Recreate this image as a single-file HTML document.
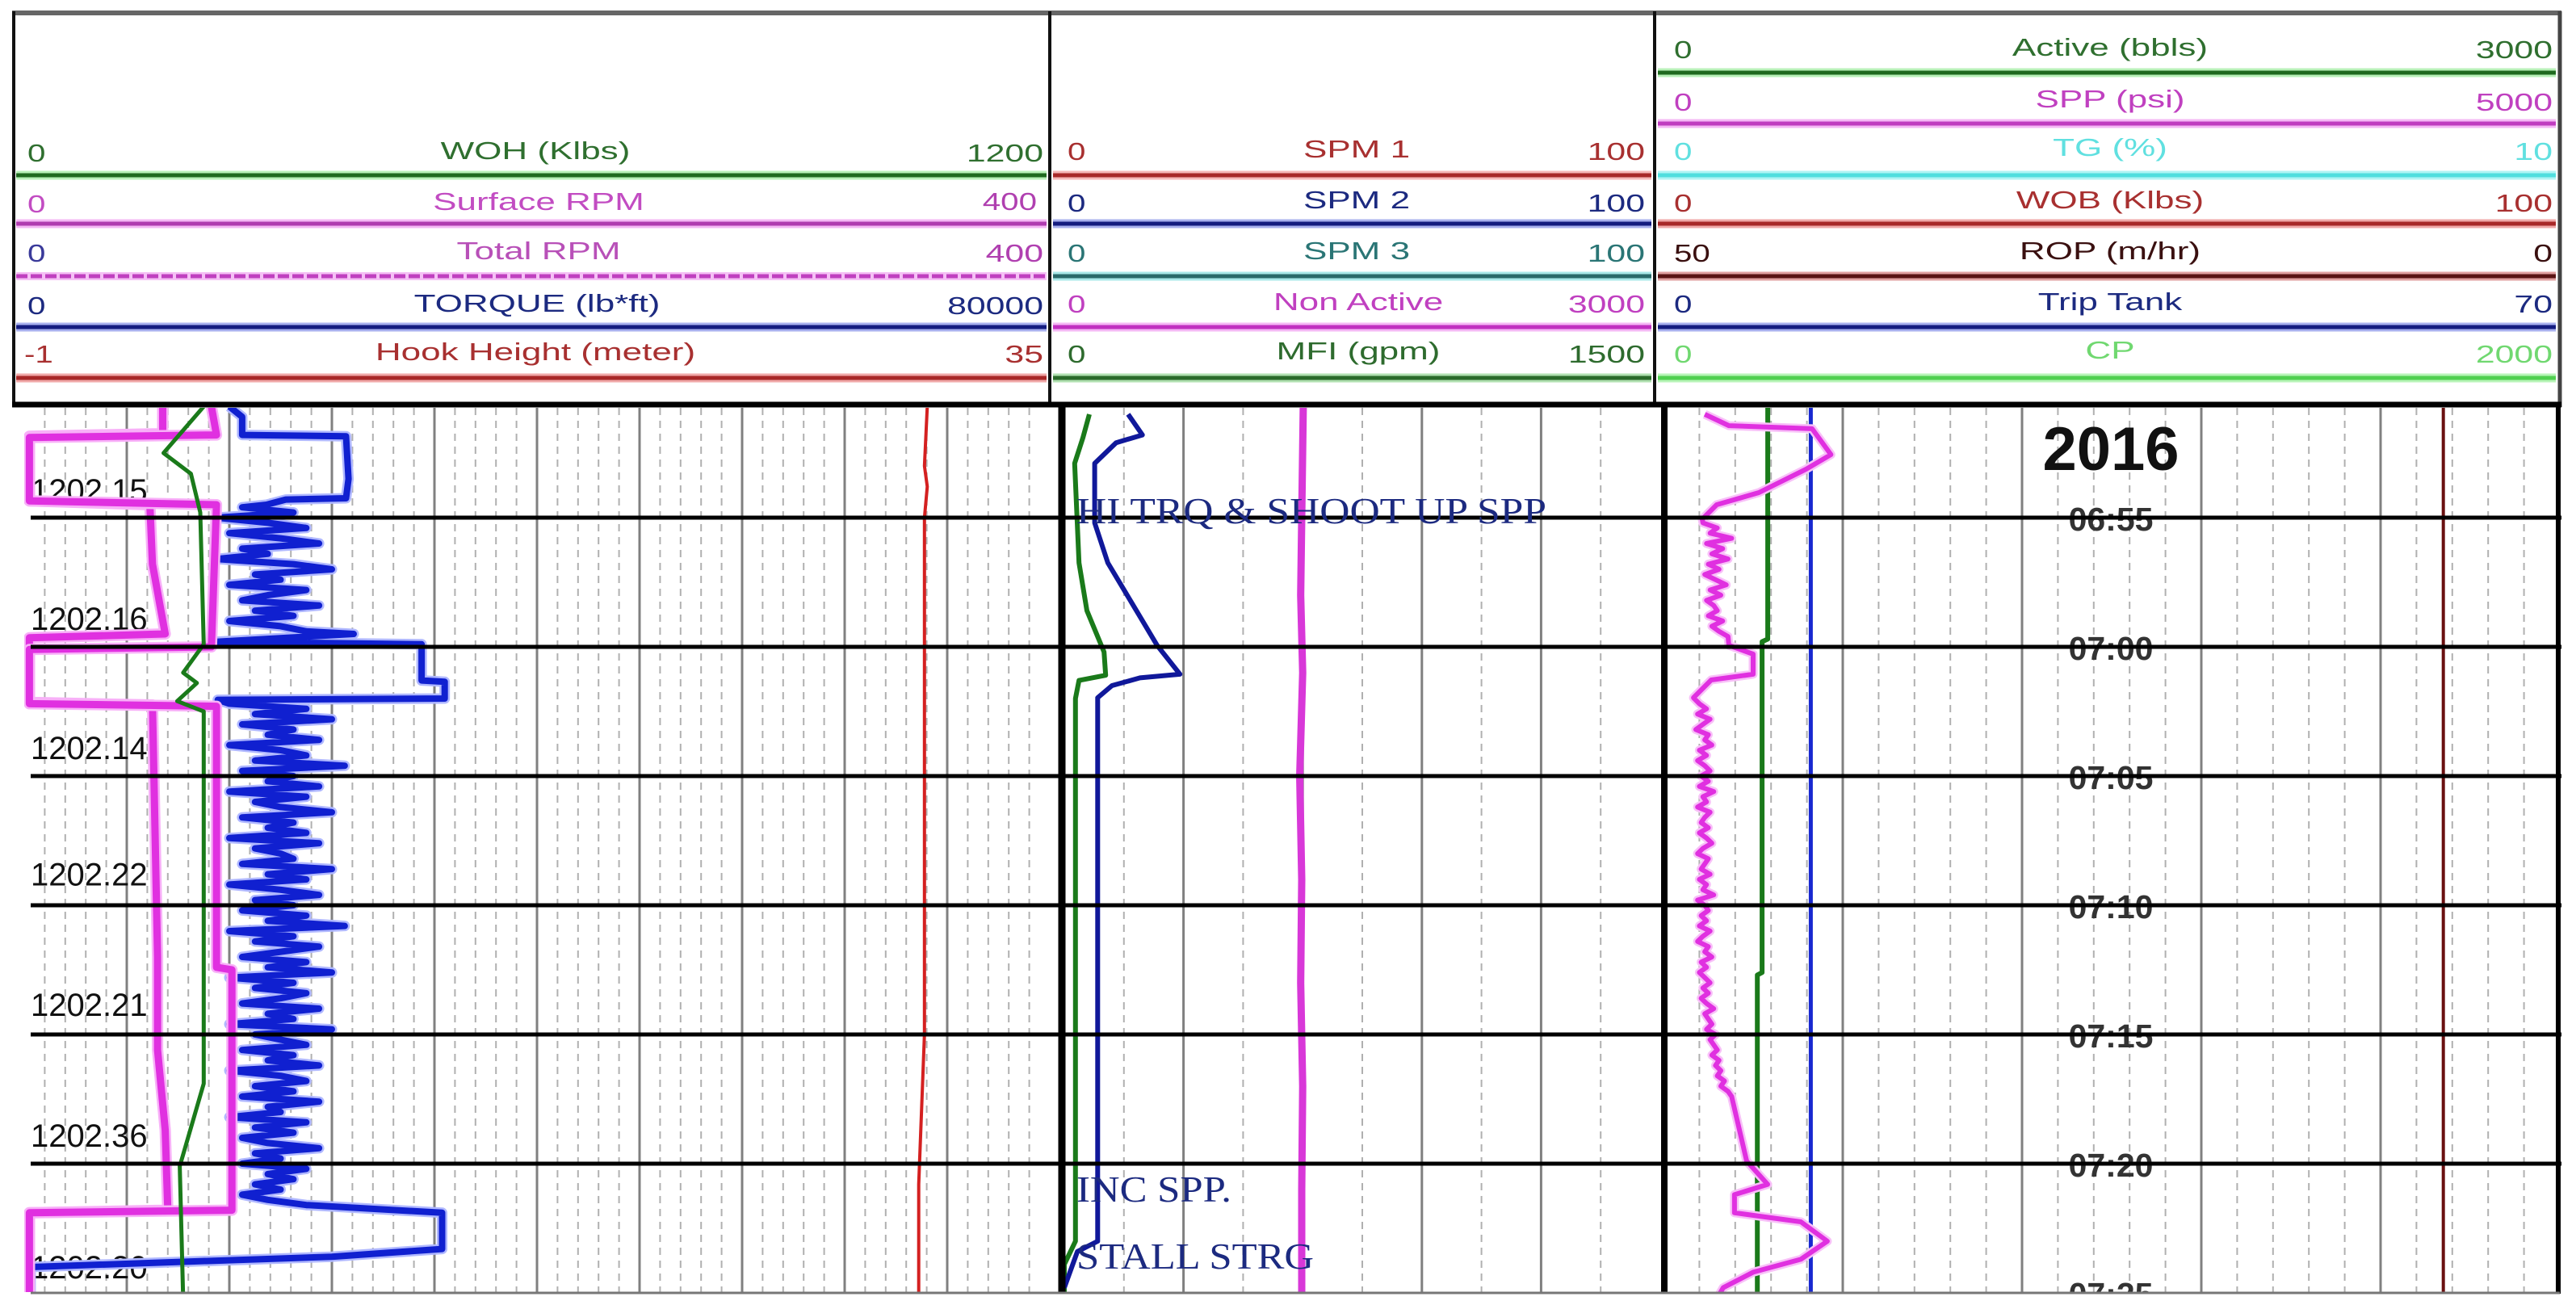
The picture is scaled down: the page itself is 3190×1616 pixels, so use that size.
<!DOCTYPE html>
<html><head><meta charset="utf-8"><style>
html,body{margin:0;padding:0;background:#fff;}
svg{display:block;font-family:"Liberation Sans",sans-serif;}
</style></head><body>
<svg id="chart" width="3190" height="1616" viewBox="0 0 3190 1616" xmlns="http://www.w3.org/2000/svg">
<rect x="0" y="0" width="3190" height="1616" fill="#fff"/>
<defs>
<clipPath id="c1"><rect x="30" y="505" width="1283" height="1095"/></clipPath>
<clipPath id="c2"><rect x="1318" y="505" width="740" height="1095"/></clipPath>
<clipPath id="c3"><rect x="2062" y="505" width="1105" height="1095"/></clipPath>
<clipPath id="cl"><rect x="0" y="505" width="3190" height="1096"/></clipPath>
</defs>
<g id="grid"></g>
<g id="labels" clip-path="url(#cl)"></g>
<g id="curves"></g>
<g id="frame"></g>

<g font-size="31">
  <g>
    <line x1="20" y1="217" x2="1296" y2="217" stroke="#b8f0b8" stroke-width="11"/><line x1="20" y1="217" x2="1296" y2="217" stroke="#1f6a1f" stroke-width="5"/>
    <text transform="translate(663,197) scale(1.42,1)" text-anchor="middle" fill="#2f6f2f">WOH  (Klbs)</text>
    <text transform="translate(34,200) scale(1.3,1)" fill="#2f6f2f">0</text>
    <text transform="translate(1292,200) scale(1.38,1)" text-anchor="end" fill="#2f6f2f">1200</text>

    <line x1="20" y1="277" x2="1296" y2="277" stroke="#f5b8f5" stroke-width="11"/><line x1="20" y1="277" x2="1296" y2="277" stroke="#b03cb0" stroke-width="5"/>
    <text transform="translate(667,260) scale(1.42,1)" text-anchor="middle" fill="#c24cc2">Surface RPM</text>
    <text transform="translate(34,263) scale(1.3,1)" fill="#c24cc2">0</text>
    <text transform="translate(1284,260) scale(1.3,1)" text-anchor="end" fill="#b040b0">400</text>

    <line x1="20" y1="342" x2="1296" y2="342" stroke="#f5c0f5" stroke-width="10"/><line x1="20" y1="342" x2="1296" y2="342" stroke="#c040c0" stroke-width="5" stroke-dasharray="14 4"/>
    <text transform="translate(667,321) scale(1.42,1)" text-anchor="middle" fill="#b850b8">Total RPM</text>
    <text transform="translate(34,324) scale(1.3,1)" fill="#3a3a9a">0</text>
    <text transform="translate(1292,324) scale(1.38,1)" text-anchor="end" fill="#b040b0">400</text>

    <line x1="20" y1="405" x2="1296" y2="405" stroke="#a8b0ee" stroke-width="11"/><line x1="20" y1="405" x2="1296" y2="405" stroke="#141c80" stroke-width="5"/>
    <text transform="translate(665,386) scale(1.42,1)" text-anchor="middle" fill="#1c2a80">TORQUE (lb*ft)</text>
    <text transform="translate(34,389) scale(1.3,1)" fill="#1c2a80">0</text>
    <text transform="translate(1292,389) scale(1.38,1)" text-anchor="end" fill="#1c2a80">80000</text>

    <line x1="20" y1="468" x2="1296" y2="468" stroke="#f0a8a8" stroke-width="11"/><line x1="20" y1="468" x2="1296" y2="468" stroke="#a82828" stroke-width="5"/>
    <text transform="translate(663,446) scale(1.42,1)" text-anchor="middle" fill="#a83030">Hook Height  (meter)</text>
    <text transform="translate(30,449) scale(1.3,1)" fill="#a83030">-1</text>
    <text transform="translate(1292,449) scale(1.38,1)" text-anchor="end" fill="#a83030">35</text>
  </g>

  <g>
    <line x1="1304" y1="217" x2="2045" y2="217" stroke="#f5b8b8" stroke-width="11"/><line x1="1304" y1="217" x2="2045" y2="217" stroke="#a82828" stroke-width="5"/>
    <text transform="translate(1680,195) scale(1.42,1)" text-anchor="middle" fill="#a83030">SPM 1</text>
    <text transform="translate(1322,198) scale(1.3,1)" fill="#a83030">0</text>
    <text transform="translate(2037,198) scale(1.38,1)" text-anchor="end" fill="#a83030">100</text>

    <line x1="1304" y1="277" x2="2045" y2="277" stroke="#a8b0ee" stroke-width="11"/><line x1="1304" y1="277" x2="2045" y2="277" stroke="#141c80" stroke-width="5"/>
    <text transform="translate(1680,258) scale(1.42,1)" text-anchor="middle" fill="#1c2a80">SPM 2</text>
    <text transform="translate(1322,262) scale(1.3,1)" fill="#1c2a80">0</text>
    <text transform="translate(2037,262) scale(1.38,1)" text-anchor="end" fill="#1c2a80">100</text>

    <line x1="1304" y1="342" x2="2045" y2="342" stroke="#a8e8e8" stroke-width="11"/><line x1="1304" y1="342" x2="2045" y2="342" stroke="#2a6a6a" stroke-width="5"/>
    <text transform="translate(1680,321) scale(1.42,1)" text-anchor="middle" fill="#2a7575">SPM 3</text>
    <text transform="translate(1322,324) scale(1.3,1)" fill="#2a7575">0</text>
    <text transform="translate(2037,324) scale(1.38,1)" text-anchor="end" fill="#2a7575">100</text>

    <line x1="1304" y1="405" x2="2045" y2="405" stroke="#f5b8f5" stroke-width="11"/><line x1="1304" y1="405" x2="2045" y2="405" stroke="#c030c0" stroke-width="5"/>
    <text transform="translate(1682,384) scale(1.42,1)" text-anchor="middle" fill="#c040c0">Non Active</text>
    <text transform="translate(1322,387) scale(1.3,1)" fill="#c040c0">0</text>
    <text transform="translate(2037,387) scale(1.38,1)" text-anchor="end" fill="#c040c0">3000</text>

    <line x1="1304" y1="468" x2="2045" y2="468" stroke="#b0e0b0" stroke-width="11"/><line x1="1304" y1="468" x2="2045" y2="468" stroke="#2a6a2a" stroke-width="5"/>
    <text transform="translate(1682,445) scale(1.42,1)" text-anchor="middle" fill="#2e6b2e">MFI  (gpm)</text>
    <text transform="translate(1322,449) scale(1.3,1)" fill="#2e6b2e">0</text>
    <text transform="translate(2037,449) scale(1.38,1)" text-anchor="end" fill="#2e6b2e">1500</text>
  </g>

  <g>
    <line x1="2053" y1="90" x2="3165" y2="90" stroke="#b8f0b8" stroke-width="11"/><line x1="2053" y1="90" x2="3165" y2="90" stroke="#1f6a1f" stroke-width="5"/>
    <text transform="translate(2613,69) scale(1.42,1)" text-anchor="middle" fill="#2f6f2f">Active (bbls)</text>
    <text transform="translate(2073,72) scale(1.3,1)" fill="#2f6f2f">0</text>
    <text transform="translate(3161,72) scale(1.38,1)" text-anchor="end" fill="#2f6f2f">3000</text>

    <line x1="2053" y1="153" x2="3165" y2="153" stroke="#f5b8f5" stroke-width="11"/><line x1="2053" y1="153" x2="3165" y2="153" stroke="#c03cc0" stroke-width="5"/>
    <text transform="translate(2613,133) scale(1.42,1)" text-anchor="middle" fill="#c040c0">SPP (psi)</text>
    <text transform="translate(2073,137) scale(1.3,1)" fill="#c040c0">0</text>
    <text transform="translate(3161,137) scale(1.38,1)" text-anchor="end" fill="#c040c0">5000</text>

    <line x1="2053" y1="217" x2="3165" y2="217" stroke="#b0f4f4" stroke-width="11"/><line x1="2053" y1="217" x2="3165" y2="217" stroke="#50dede" stroke-width="5"/>
    <text transform="translate(2613,193) scale(1.42,1)" text-anchor="middle" fill="#60e0e0">TG (%)</text>
    <text transform="translate(2073,198) scale(1.3,1)" fill="#60e0e0">0</text>
    <text transform="translate(3161,198) scale(1.38,1)" text-anchor="end" fill="#60e0e0">10</text>

    <line x1="2053" y1="277" x2="3165" y2="277" stroke="#f0a8a8" stroke-width="11"/><line x1="2053" y1="277" x2="3165" y2="277" stroke="#a82828" stroke-width="5"/>
    <text transform="translate(2613,258) scale(1.42,1)" text-anchor="middle" fill="#a83030">WOB (Klbs)</text>
    <text transform="translate(2073,262) scale(1.3,1)" fill="#a83030">0</text>
    <text transform="translate(3161,262) scale(1.38,1)" text-anchor="end" fill="#a83030">100</text>

    <line x1="2053" y1="342" x2="3165" y2="342" stroke="#e0a0a0" stroke-width="11"/><line x1="2053" y1="342" x2="3165" y2="342" stroke="#5a1414" stroke-width="5"/>
    <text transform="translate(2613,321) scale(1.42,1)" text-anchor="middle" fill="#3a1010">ROP  (m/hr)</text>
    <text transform="translate(2073,324) scale(1.3,1)" fill="#3a1010">50</text>
    <text transform="translate(3161,324) scale(1.38,1)" text-anchor="end" fill="#3a1010">0</text>

    <line x1="2053" y1="405" x2="3165" y2="405" stroke="#a8b0ee" stroke-width="11"/><line x1="2053" y1="405" x2="3165" y2="405" stroke="#141c80" stroke-width="5"/>
    <text transform="translate(2613,384) scale(1.42,1)" text-anchor="middle" fill="#1c2a80">Trip Tank</text>
    <text transform="translate(2073,387) scale(1.3,1)" fill="#1c2a80">0</text>
    <text transform="translate(3161,387) scale(1.38,1)" text-anchor="end" fill="#1c2a80">70</text>

    <line x1="2053" y1="468" x2="3165" y2="468" stroke="#b8f4b8" stroke-width="11"/><line x1="2053" y1="468" x2="3165" y2="468" stroke="#50d050" stroke-width="5"/>
    <text transform="translate(2613,444) scale(1.42,1)" text-anchor="middle" fill="#70d870">CP</text>
    <text transform="translate(2073,449) scale(1.3,1)" fill="#70d870">0</text>
    <text transform="translate(3161,449) scale(1.38,1)" text-anchor="end" fill="#70d870">2000</text>
  </g>

  <line x1="15" y1="16" x2="3172" y2="16" stroke="#666" stroke-width="6"/>
  <line x1="17" y1="14" x2="17" y2="504" stroke="#111" stroke-width="4"/>
  <line x1="1300" y1="14" x2="1300" y2="504" stroke="#111" stroke-width="4"/>
  <line x1="2049" y1="14" x2="2049" y2="504" stroke="#111" stroke-width="4"/>
  <line x1="3170" y1="14" x2="3170" y2="504" stroke="#444" stroke-width="5"/>
  <line x1="15" y1="501" x2="3172" y2="501" stroke="#000" stroke-width="7"/>
</g>

<g font-family="'Liberation Serif',serif" fill="#1c2a80">
  <text x="1333" y="648" font-size="46" textLength="582" lengthAdjust="spacingAndGlyphs">HI TRQ &amp; SHOOT UP SPP</text>
  <text x="1333" y="1488" font-size="46" textLength="192" lengthAdjust="spacingAndGlyphs">INC SPP.</text>
  <text x="1333" y="1571" font-size="46" textLength="294" lengthAdjust="spacingAndGlyphs">STALL STRG</text>
</g>
</svg>

<script>
// ---- data (time in minutes after 06:55) ----
const timeTicks = [0,5,10,15,20,25,30];
const timeLabels = ["06:55","07:00","07:05","07:10","07:15","07:20","07:25"];
const depthTimes = [-1.06,3.9,8.9,13.8,18.85,23.9,29.0];
const depthLabels = ["1202.15","1202.16","1202.14","1202.22","1202.21","1202.36","1202.20"];
const yearLabel = "2016";

// Track 1
const totalRpmT = [-4.3,-3.25,-3.15,-0.65,-0.5,1.8,4.5,4.65,7.15,7.25,12,17,20.6,23.7,26.8,26.9,30.2];
const totalRpmV = [54,54,2,2,49,50,55,2,2,50,51,52,52,55,56,2,2];
const surfaceRpmT = [-4.3,-3.2,-3.1,-0.65,-0.5,5.0,5.1,7.2,7.3,17.4,17.5,26.8,26.9,30.2];
const surfaceRpmV = [73,75,2,2,75,73,2,2,75,75,81,81,2,2];
const wohT = [-4.3,-2.5,-1.7,-0.2,4.9,6.0,6.4,7.1,7.5,21.9,25.1,30.2];
const wohV = [210,163,195,206,210,186,202,179,210,210,182,186];
const hookT = [-4.3,-2.0,-1.2,0,10,20,25.8,27,30.2];
const hookV = [30.7,30.6,30.7,30.6,30.6,30.6,30.4,30.4,30.4];
const torqueT = [-4.3,-3.9,-3.2,-3.15,-1.5,-0.75,-0.7,-0.5];
const torqueV = [16000,17000,17000,25100,25300,25100,20400,18900];
const torqueNoiseA = [17,21,15,19,22,16,20,23,17,19,15,21,24,18,20,16,22,19,17,23,18,21,16,20,22];
const torqueMidT = [4.5,4.8,4.9,6.3,6.35,7.0,7.05];
const torqueMidV = [25700,15100,31000,31000,32800,32800,15100];
const torqueNoiseB = [16,22,18,24,17,21,19,23,16,20,22,18,25,17,21,19,23,16,22,18,20,24,17,21,19,22,16,23,18,20,21,17,24,19,22,16,20,23,18,21,17,22,19,25,16,21,18,23,20,17,22,19,24,16,21,18,22,20,17,23,19,21,16,24,18,20,22,17,21,19,23,16,20,22,18,21,17,23,19,20,16,22,18,21,17,19,23,18,20,17,22,19,21,18,20,17,19,22];
const torqueEndT = [26.9,28.3,28.6,29.0,30.2];
const torqueEndV = [32600,32600,24000,500,500];

// Track 2
const mfiT = [-4.0,-3.1,-2.1,1.75,3.6,5.2,6.1,6.3,7.0,28.0,28.9,30.2];
const mfiV = [63,47,26,37,57,100,104,37,28,28,0,0];
const spm2T = [-4.0,-3.2,-2.9,-2.1,0.2,1.75,3.6,4.95,6.06,6.2,6.5,6.97,28.0,28.4,29.8];
const spm2V = [10.7,13.1,8.7,5.1,5.1,7.3,12.1,15.6,19.4,12.7,8.0,5.6,5.6,2.2,0];
const nonActiveT = [-4.3,0,3,6,10,14,18,22,26,30.2];
const nonActiveV = [1203,1195,1190,1200,1185,1195,1190,1200,1195,1195];

// Track 3
const activeT = [-4.3,4.7,4.8,17.6,17.7,30.2];
const activeV = [349,349,330,330,314,314];
const tripTankT = [-4.3,30.2];
const tripTankV = [11.5,11.5];
const ropT = [-4.3,30.2];
const ropV = [6.5,6.5];
const sppT = [-4.0,-3.56,-3.44,-2.44,-1.88,-0.97,-0.5,0.06];
const sppV = [230,365,829,934,797,532,297,216];
const sppNoiseA = [220,300,260,380,240,330,270,360,250,310,230,290,350,260,320,240,280,300,250,330,270,310,360];
const sppMidT = [4.94,5.28,6.06,6.28,6.97];
const sppMidV = [365,500,500,266,167];
const sppNoiseB = [200,240,190,260,220,180,250,230,270,200,240,190,230,260,210,250,200,280,220,240,190,260,230,210,250,200,240,270,220,190,250,230,210,260,200,240,220,280,190,230,250,210,240,200,260,220,190,250,230,270,210,240,200,230,260,220,250,210,240,280,230,250,270,240,290,260,280,300,270,310,290,320,300,340,320,360,380];
const sppEndT = [24.9,25.8,26.2,26.9,27.25,28.0,28.7,29.2,29.8,30.2];
const sppEndV = [464,581,396,396,766,914,766,500,333,300];

// ---- scales ----
const NS = "http://www.w3.org/2000/svg";
const T1 = {x0:30, x1:1300}, T2 = {x0:1318, x1:2056}, T3 = {x0:2060, x1:3170};
function sx(tr, min, max, v){ return tr.x0 + (v-min)/(max-min)*(tr.x1-tr.x0); }
function ty(t){ return 641 + 32*t; }
function mk(tag, attrs, parent){ const e=document.createElementNS(NS,tag); for(const k in attrs) e.setAttribute(k, attrs[k]); parent.appendChild(e); return e; }

function withNoise(t, v, startT, step, noise, scale){
  const T=t.slice(), V=v.slice();
  noise.forEach((n,i)=>{ T.push(startT+i*step); V.push(n*scale); });
  return [T,V];
}
let [tqT,tqV] = withNoise(torqueT, torqueV, -0.4, 0.2, torqueNoiseA, 1000);
tqT = tqT.concat(torqueMidT); tqV = tqV.concat(torqueMidV);
let [tb,vb] = withNoise([],[],7.2,0.2,torqueNoiseB,1000);
tqT = tqT.concat(tb, torqueEndT); tqV = tqV.concat(vb, torqueEndV);

let [spT,spV] = withNoise(sppT, sppV, 0.2, 0.2, sppNoiseA, 1);
spT = spT.concat(sppMidT); spV = spV.concat(sppMidV);
let [sb,svb] = withNoise([],[],7.2,0.2,sppNoiseB,1);
spT = spT.concat(sb, sppEndT); spV = spV.concat(svb, sppEndV);

// ---- grid ----
const grid = document.getElementById('grid');
function trackGrid(tr, majors, minors){
  const w=(tr.x1-tr.x0)/majors;
  for(let i=0;i<=majors;i++){
    const x=tr.x0+i*w;
    if(i>0 && i<majors){
      const l=mk('line',{x1:x,y1:505,x2:x,y2:1600,stroke:'#808080','stroke-width':3},grid);
      
      
    }
    if(i<majors){
      for(let j=1;j<minors;j++){
        const xm=x+j*w/minors;
        const d=mk('line',{x1:xm,y1:505,x2:xm,y2:1600,stroke:'#b0b0b0','stroke-width':2,'stroke-dasharray':'9 7'},grid);
        
        
      }
    }
  }
}
trackGrid(T1,10,5); trackGrid(T2,5,2); trackGrid(T3,5,5);

// ---- labels ----
const labels = document.getElementById('labels');
depthLabels.forEach((s,i)=>{
  const t=mk('text',{x:38,y:ty(depthTimes[i])+14,'font-size':40,fill:'#111'},labels);
  
  
  t.textContent=s;
});
timeLabels.forEach((s,i)=>{
  const t=mk('text',{x:2614,y:ty(timeTicks[i])+16,'font-size':41,'font-weight':'bold',fill:'#333','text-anchor':'middle'},labels);
  
  
  t.textContent=s;
});
const yl=mk('text',{x:2614,y:582,'font-size':76,'font-weight':'bold',fill:'#111','text-anchor':'middle'},labels);


yl.textContent=yearLabel;

// ---- curves ----
const curves = document.getElementById('curves');
function curve(name, tr, clip, min, max, T, V, color, w, halo){
  let d='';
  T.forEach((t,i)=>{ d += (i?'L':'M') + sx(tr,min,max,V[i]).toFixed(1) + ',' + ty(t).toFixed(1); });
  const g=mk('g',{'clip-path':'url(#'+clip+')'},curves);
  if(halo){ mk('path',{d:d,fill:'none',stroke:halo,'stroke-width':w+5,'stroke-linejoin':'round'},g); }
  const p=mk('path',{d:d,fill:'none',stroke:color,'stroke-width':w,'stroke-linejoin':'round'},g);
  
  
}
curve('hook-height-curve',T1,'c1',-1,35,hookT,hookV,'#d42020',4);
curve('torque-curve',T1,'c1',0,80000,tqT,tqV,'#1020d0',8,'#b0b8ff');
curve('total-rpm-curve',T1,'c1',0,400,totalRpmT,totalRpmV,'#e030e0',9,'#f8b0f8');
curve('surface-rpm-curve',T1,'c1',0,400,surfaceRpmT,surfaceRpmV,'#e030e0',9,'#f8b0f8');
curve('woh-curve',T1,'c1',0,1200,wohT,wohV,'#1a7a1a',5);

curve('non-active-curve',T2,'c2',0,3000,nonActiveT,nonActiveV,'#d838d8',9);
curve('mfi-curve',T2,'c2',0,1500,mfiT,mfiV,'#1a7a1a',6);
curve('spm2-curve',T2,'c2',0,100,spm2T,spm2V,'#10189a',6);

curve('rop-curve',T3,'c3',50,0,ropT,ropV,'#6a1010',4);
curve('trip-tank-curve',T3,'c3',0,70,tripTankT,tripTankV,'#1828d0',5);
curve('active-curve',T3,'c3',0,3000,activeT,activeV,'#1a7a1a',6);
curve('spp-curve',T3,'c3',0,5000,spT,spV,'#e030e0',6,'#f8c0f8');

// ---- frame ----
const frame = document.getElementById('frame');
timeTicks.slice(0,6).forEach(t=>{
  const l=mk('line',{x1:38,y1:ty(t),x2:3172,y2:ty(t),stroke:'#000','stroke-width':5},frame);
  
  
});
[[1315,9],[2061,8],[3168,6]].forEach(([x,w])=>{
  const l=mk('line',{x1:x,y1:503,x2:x,y2:1602,stroke:'#000','stroke-width':w},frame);
  
  
});
const bl=mk('line',{x1:38,y1:1601,x2:3170,y2:1601,stroke:'#777','stroke-width':3},frame);


</script>
</body></html>
